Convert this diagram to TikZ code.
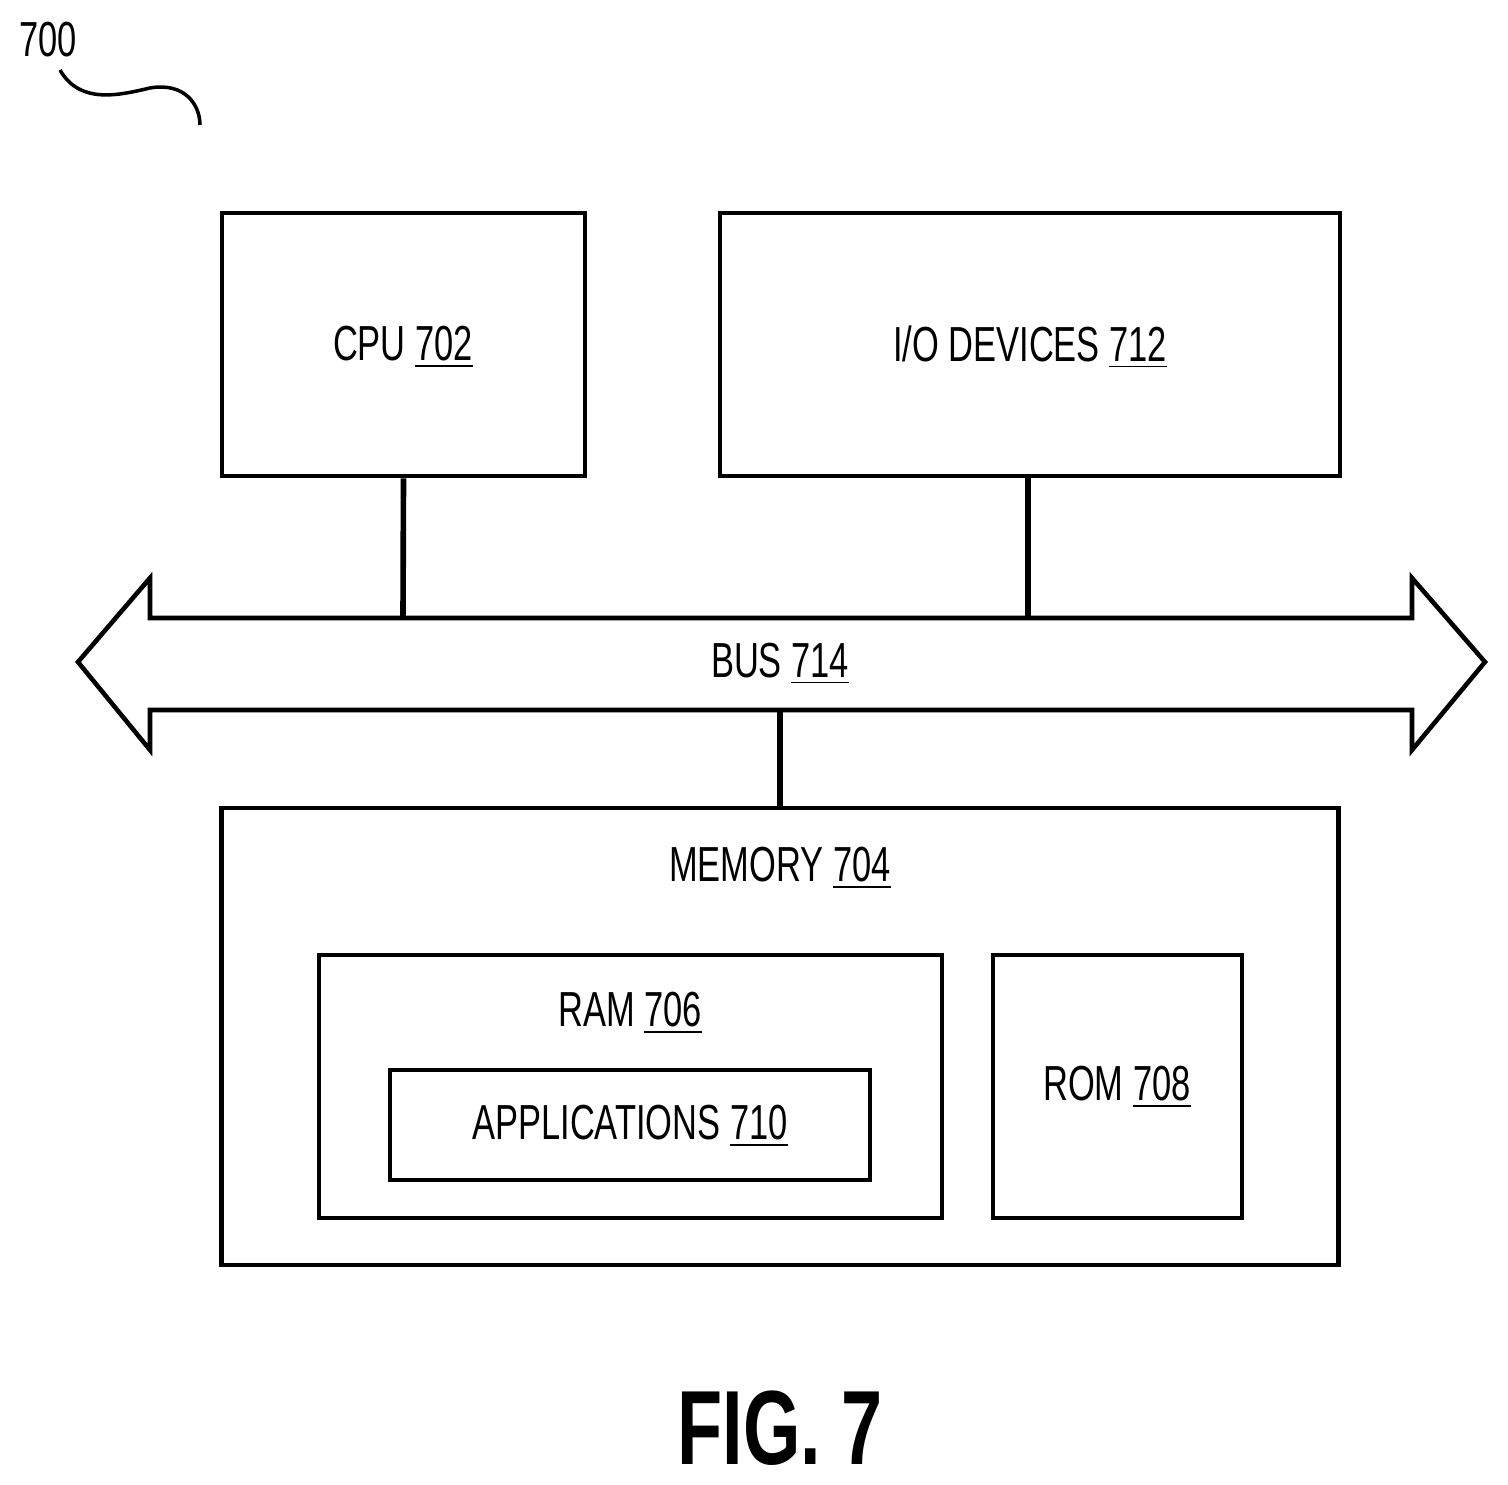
\documentclass[tikz,border=0pt]{standalone}
\usepackage{fontspec}
\setmainfont[FakeStretch=0.7]{Liberation Sans}
\usetikzlibrary{positioning}
\tikzset{
  blk/.style={draw,line width=1.3pt,inner sep=0pt},
  lbl/.style={font=\fontsize{14}{16}\selectfont},
  link/.style={line width=1.6pt}
}
\begin{document}
\begin{tikzpicture}[x=0.01cm,y=-0.01cm]
  \useasboundingbox (0,0) rectangle (1508,1485);
  % units
  \node[blk,minimum width=3.63cm,minimum height=2.63cm] (cpu) at (403.5,344.5) {};
  \node[lbl] at (403,347) {CPU \underline{702}};
  \node[blk,minimum width=6.2cm,minimum height=2.63cm] (io) at (1030,344.5) {};
  \node[lbl] at (1030,347) {I/O DEVICES \underline{712}};
  \node[blk,minimum width=11.16cm,minimum height=4.57cm] (mem) at (780,1036.5) {};
  \node[lbl] at (780,868) {MEMORY \underline{704}};
  \node[blk,minimum width=6.23cm,minimum height=2.63cm] (ram) at (630.5,1086.5) {};
  \node[lbl] at (630,1013) {RAM \underline{706}};
  \node[blk,minimum width=4.8cm,minimum height=1.1cm] (app) at (630,1125) {};
  \node[lbl] at (630,1126) {APPLICATIONS \underline{710}};
  \node[blk,minimum width=2.49cm,minimum height=2.63cm] (rom) at (1117.5,1086.5) {};
  \node[lbl] at (1117,1087) {ROM \underline{708}};
  % bus
  \draw[line width=1.3pt] (150,618) -- (1412,618) -- (1412,578) -- (1485,662)
    -- (1412,750) -- (1412,710) -- (150,710) -- (150,750) -- (78,662)
    -- (150,578) -- cycle;
  \node[lbl] (bus) at (780,664) {BUS \underline{714}};
  \coordinate (bt1) at (403,618);
  \coordinate (bt2) at (1028,618);
  \coordinate (bb) at (780,710);
  \draw[link] (cpu.south) -- (bt1);
  \draw[link] (io.south -| bt2) -- (bt2);
  \draw[link] (bb) -- (mem.north);
  % reference
  \node[lbl] (ref) at (48,40) {700};
  \draw[line width=1pt] (60,70) .. controls (80,105) and (120,95) .. (150,88)
    .. controls (185,82) and (200,105) .. (200,125);
  \node[font=\bfseries\fontsize{30}{34}\selectfont] (fig) at (780,1428) {FIG. 7};
\end{tikzpicture}
\end{document}
